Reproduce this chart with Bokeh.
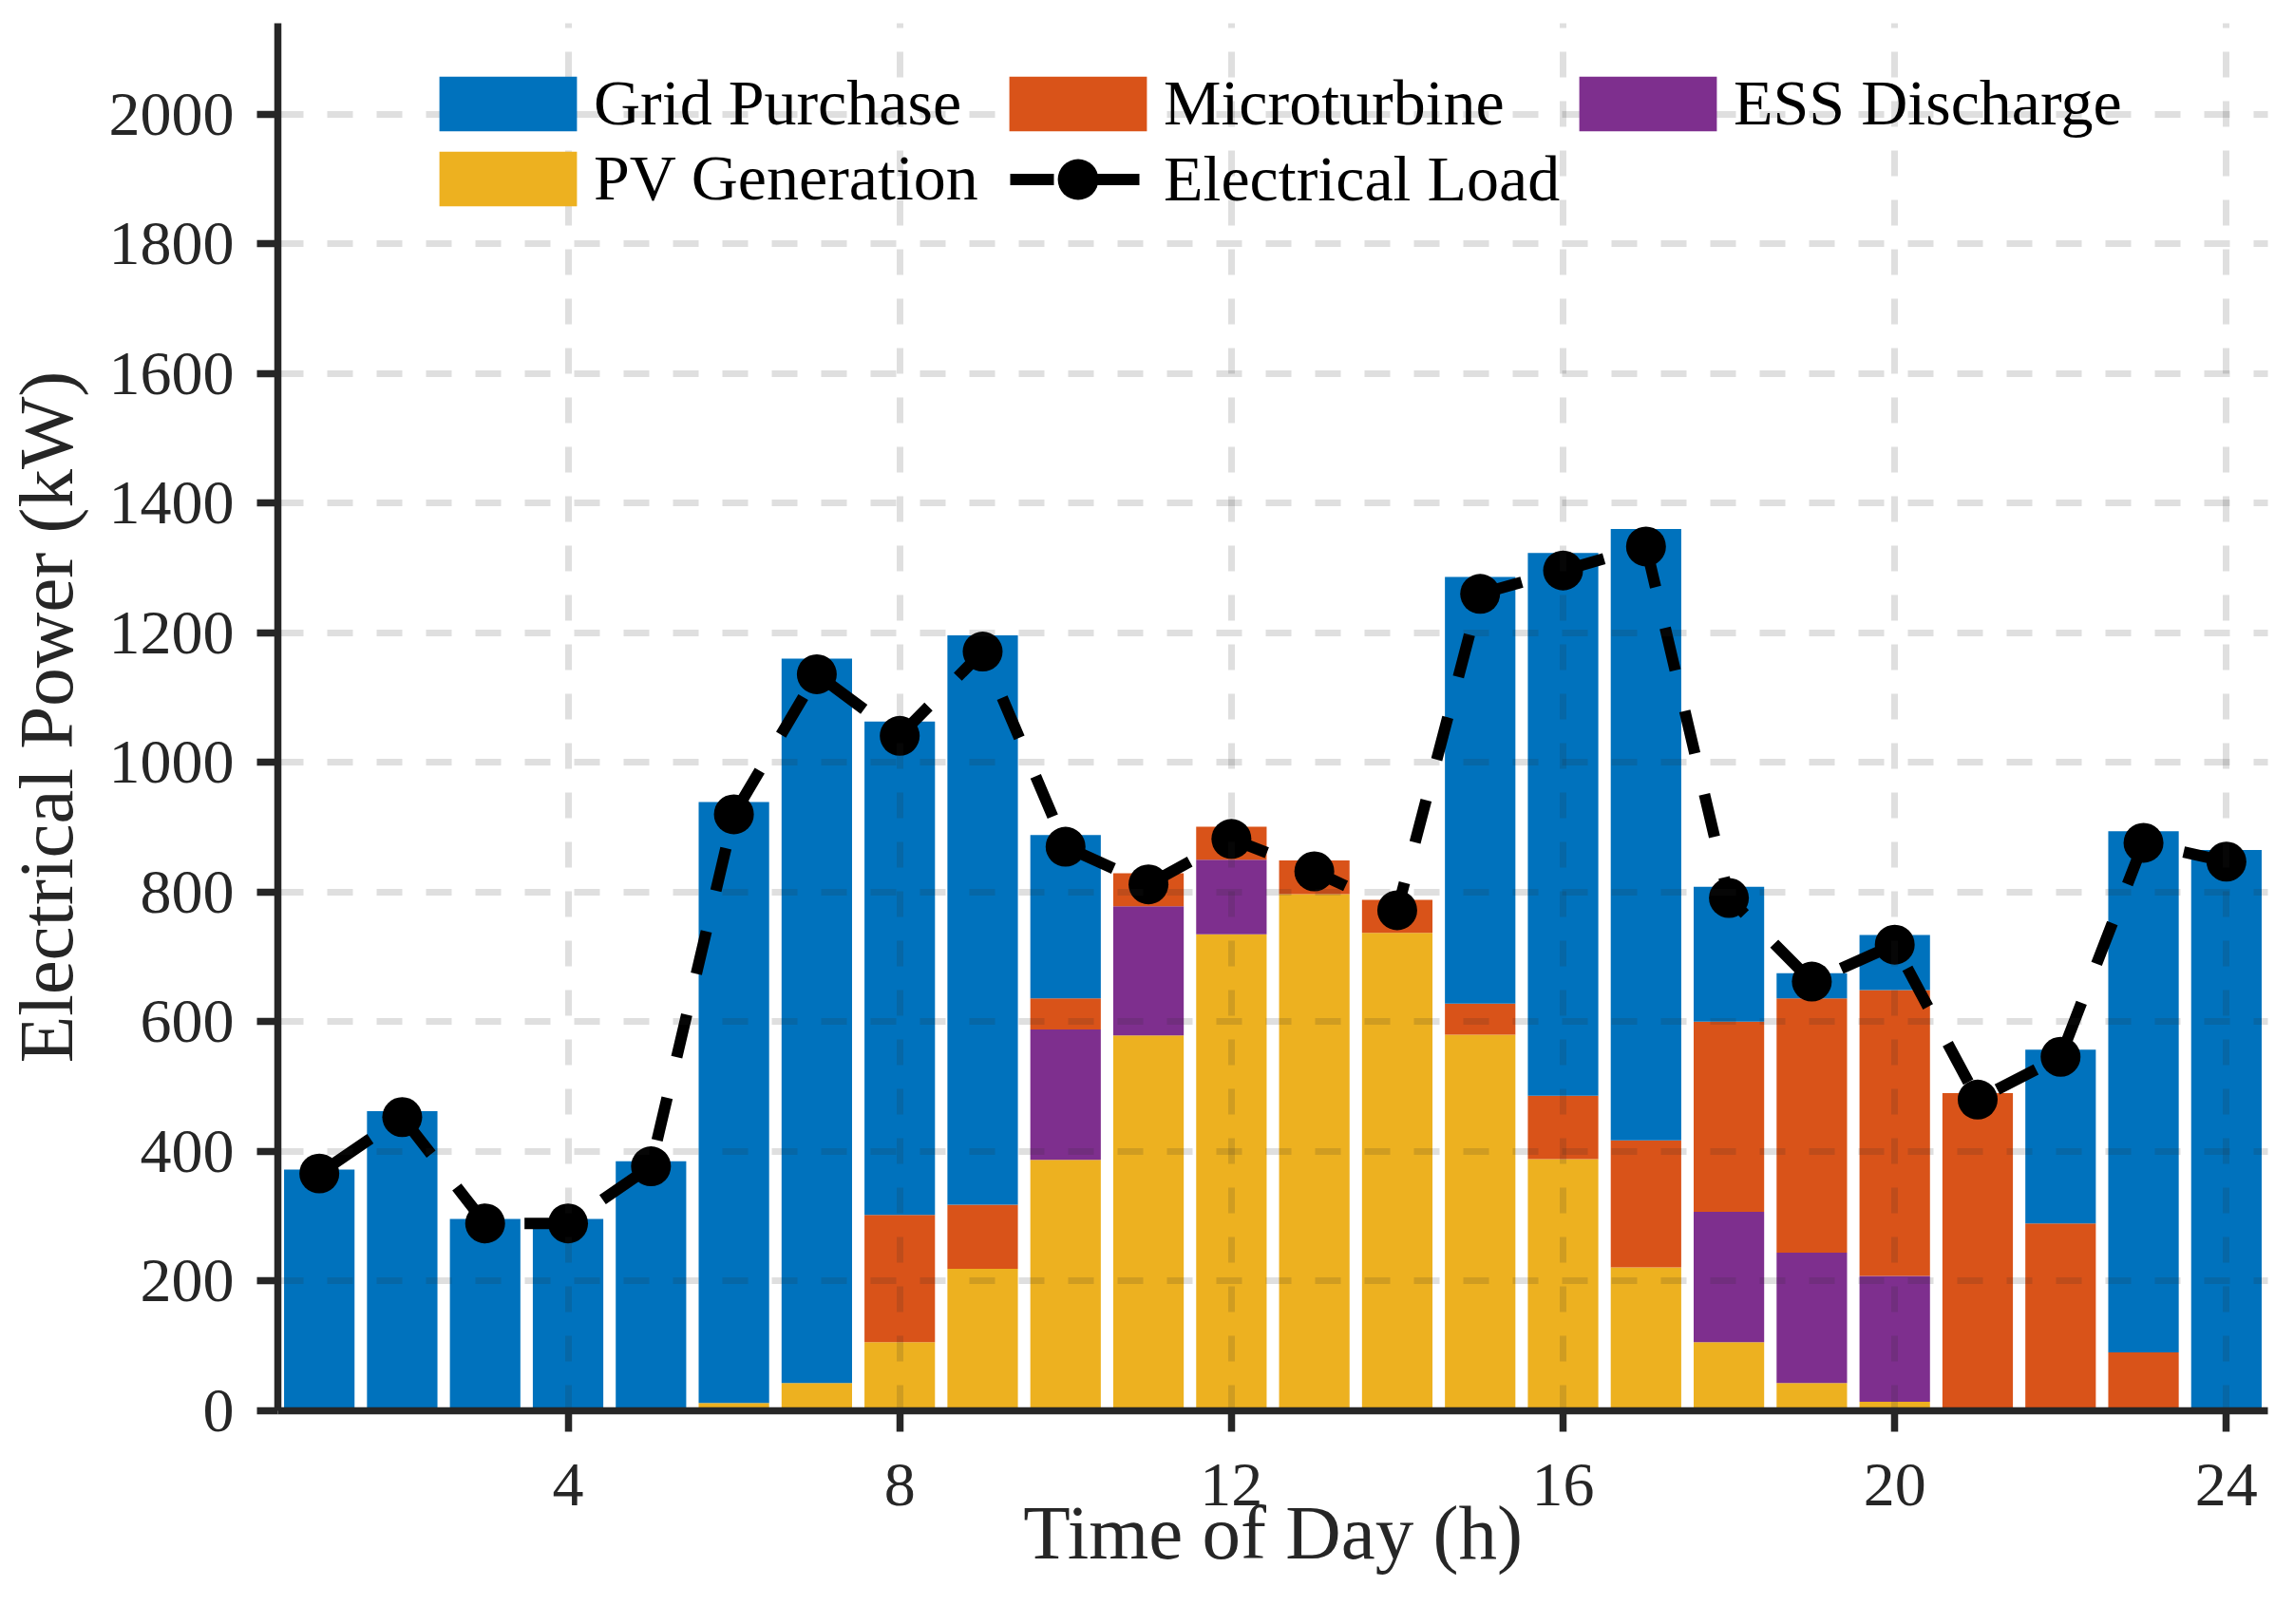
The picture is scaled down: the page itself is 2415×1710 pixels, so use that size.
from bokeh.plotting import figure
from bokeh.models import ColumnDataSource, Legend, LegendItem, FixedTicker, Range1d
from bokeh.embed import file_html
from bokeh.resources import INLINE

# ---- data ----
hours = list(range(1, 25))
grid_purchase = [372, 462, 296, 296, 385, 927, 1117, 761, 878, 252, 0, 0,
                 0, 0, 658, 837, 943, 208, 39, 85, 0, 268, 804, 865]
microturbine = [0, 0, 0, 0, 0, 0, 0, 196, 99, 48, 51, 51,
                52, 51, 48, 98, 196, 293, 392, 441, 490, 289, 90, 0]
ess_discharge = [0, 0, 0, 0, 0, 0, 0, 0, 0, 201, 199, 115,
                 0, 0, 0, 0, 0, 201, 201, 194, 0, 0, 0, 0]
pv_generation = [0, 0, 0, 0, 0, 12, 43, 106, 219, 387, 579, 735,
                 797, 737, 580, 388, 221, 106, 43, 14, 0, 0, 0, 0]
electrical_load = [366, 453, 289, 289, 377, 920, 1136, 1041, 1171, 870, 812, 882,
                   832, 772, 1260, 1296, 1333, 791, 662, 719, 480, 546, 876, 847]
x_ticks = [4, 8, 12, 16, 20, 24]
y_ticks = list(range(0, 2001, 200))
series_names = ["Grid Purchase", "Microturbine", "ESS Discharge", "PV Generation", "Electrical Load"]

FONT = "Liberation Serif"
AX = "#262626"

src = ColumnDataSource(dict(hour=hours, pv=pv_generation, ess=ess_discharge,
                            mt=microturbine, grid=grid_purchase))

p = figure(width=2399, height=1694, output_backend="svg", toolbar_location=None,
           x_range=Range1d(0.5, 24.5), y_range=Range1d(0, 2140),
           min_border_left=284, min_border_right=12, min_border_top=24,
           min_border_bottom=209)
p.outline_line_color = None
p.background_fill_color = "white"

bars = p.vbar_stack(["pv", "ess", "mt", "grid"], x="hour", width=0.85,
                    color=["#EDB120", "#7E2F8E", "#D95319", "#0072BD"],
                    line_color=None, source=src)
pv_r, ess_r, mt_r, grid_r = bars

load_line = p.line(hours, electrical_load, line_color="black", line_width=12,
                   line_dash="46 44", line_dash_offset=71)
load_pts = p.scatter(hours, electrical_load, marker="circle", size=42,
                     fill_color="black", line_color="black", line_width=0)

# axes
p.xaxis.ticker = FixedTicker(ticks=x_ticks)
p.yaxis.ticker = FixedTicker(ticks=y_ticks)
p.xaxis.axis_label = "Time of Day (h)"
p.yaxis.axis_label = "Electrical Power (kW)"
for ax in (p.xaxis, p.yaxis):
    ax.axis_line_color = AX
    ax.axis_line_width = 7.5
    ax.major_tick_line_color = AX
    ax.major_tick_line_width = 7.5
    ax.major_tick_out = 22
    ax.major_tick_in = 0
    ax.minor_tick_out = 0
    ax.minor_tick_in = 0
    ax.major_label_text_font = FONT
    ax.major_label_text_font_size = "66px"
    ax.major_label_text_color = AX
    ax.axis_label_text_font = FONT
    ax.axis_label_text_font_size = "81px"
    ax.axis_label_text_font_style = "normal"
    ax.axis_label_text_color = AX
p.xaxis.major_label_standoff = 34
p.xaxis.axis_label_standoff = -19
p.yaxis.major_label_standoff = 24
p.yaxis.axis_label_standoff = 18

# grid drawn over bars
for g in (p.xgrid, p.ygrid):
    g.grid_line_color = AX
    g.grid_line_alpha = 0.15
    g.grid_line_width = 7
    g.grid_line_dash = "27 25"
    g.level = "annotation"


def style_legend(lg, glyph_h):
    lg.glyph_width = 181
    lg.glyph_height = glyph_h
    lg.label_standoff = 0
    lg.label_width = 419
    lg.label_height = 77
    lg.spacing = 0
    lg.padding = 0
    lg.margin = 0
    lg.background_fill_alpha = 0
    lg.border_line_alpha = 0
    lg.label_text_font = FONT
    lg.label_text_font_size = "68px"
    lg.label_text_color = "black"


legend = Legend(items=[
    LegendItem(label=series_names[0], renderers=[grid_r]),
    LegendItem(label=series_names[1], renderers=[mt_r]),
    LegendItem(label=series_names[2], renderers=[ess_r]),
    LegendItem(label=series_names[3], renderers=[pv_r]),
], location=(152, 1258), orientation="horizontal", ncols=3)
style_legend(legend, 72)
p.add_layout(legend, "center")

legend_load = Legend(items=[
    LegendItem(label=series_names[4], renderers=[load_line, load_pts]),
], location=(752, 1243), orientation="horizontal")
style_legend(legend_load, 107)
p.add_layout(legend_load, "center")

open("out.html", "w").write(file_html(p, INLINE))
